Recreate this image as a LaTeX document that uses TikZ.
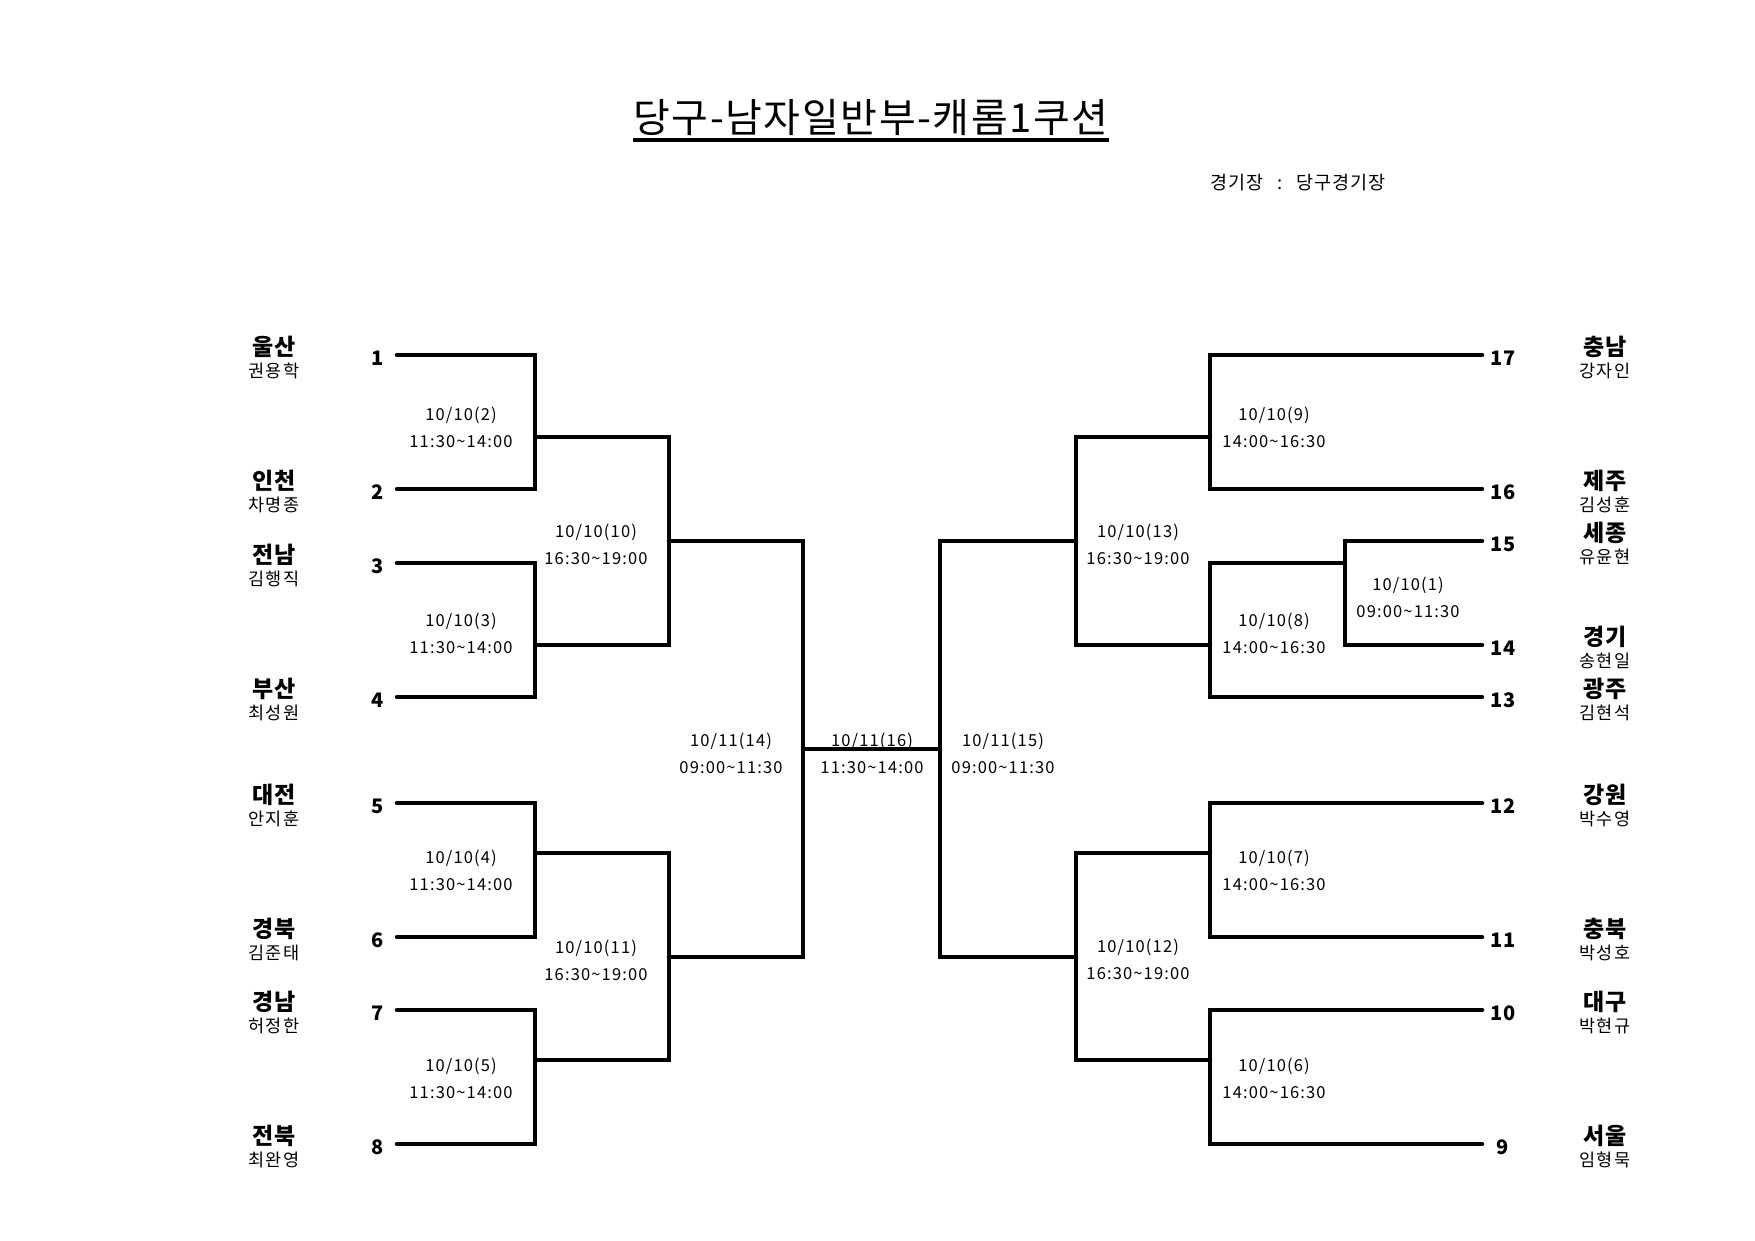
\documentclass[tikz,border=0pt]{standalone}
\usepackage{fontspec}
\setmainfont{Noto Sans CJK KR}
\begin{document}
\begin{tikzpicture}[x=1pt,y=-1pt,
  br/.style={line width=4.5pt, line cap=round, line join=miter},
  num/.style={font=\fontsize{20}{20}\selectfont\bfseries, inner sep=0pt},
  reg/.style={font=\fontsize{23}{23}\selectfont\bfseries\addfontfeature{LetterSpace=3}, inner sep=0pt},
  per/.style={font=\fontsize{17.5}{17.5}\selectfont\addfontfeature{LetterSpace=8}, inner sep=0pt},
  mt/.style={font=\fontsize{16.5}{27}\selectfont\addfontfeature{LetterSpace=7}, inner sep=0pt, align=center}
]
\useasboundingbox (0,0) rectangle (1755,1240);

% title
\node[inner sep=0pt, font=\fontsize{40}{40}\selectfont\addfontfeature{LetterSpace=4}] (title) at (871,118) {당구-남자일반부-캐롬1쿠션};
\draw[line width=4pt] ([yshift=-7pt]title.base west) -- ([yshift=-7pt]title.base east);
\node[inner sep=0pt, anchor=west, font=\fontsize{18.5}{18.5}\selectfont\addfontfeature{LetterSpace=5}] (venue) at (1210,183) {경기장\hspace{14pt}:\hspace{14pt}당구경기장};

% seed coordinates (left)
\coordinate (L1) at (397,355);
\coordinate (L2) at (397,489);
\coordinate (L3) at (397,563);
\coordinate (L4) at (397,697);
\coordinate (L5) at (397,803);
\coordinate (L6) at (397,937);
\coordinate (L7) at (397,1010);
\coordinate (L8) at (397,1144);
% junctions left
\coordinate (m2) at (535,437);
\coordinate (m3) at (535,645);
\coordinate (m4) at (535,853);
\coordinate (m5) at (535,1060);
\coordinate (m10) at (669,541);
\coordinate (m11) at (669,957);
\coordinate (m14) at (803,749);
% right seeds
\coordinate (R17) at (1482,355);
\coordinate (R16) at (1482,489);
\coordinate (R15) at (1482,541);
\coordinate (R14) at (1482,645);
\coordinate (R13) at (1482,697);
\coordinate (R12) at (1482,803);
\coordinate (R11) at (1482,937);
\coordinate (R10) at (1482,1010);
\coordinate (R9) at (1482,1144);
% junctions right
\coordinate (m1) at (1345,563);
\coordinate (m9) at (1210,437);
\coordinate (m8) at (1210,645);
\coordinate (m7) at (1210,853);
\coordinate (m6) at (1210,1060);
\coordinate (m13) at (1076,541);
\coordinate (m12) at (1076,957);
\coordinate (m15) at (940,749);

% brackets left
\draw[br] (L1) -| (m2) |- (L2);
\draw[br] (L3) -| (m3) |- (L4);
\draw[br] (L5) -| (m4) |- (L6);
\draw[br] (L7) -| (m5) |- (L8);
\draw[br] (m2) -| (m10) |- (m3);
\draw[br] (m4) -| (m11) |- (m5);
\draw[br] (m10) -| (m14) |- (m11);
% final
\draw[br] (m14) -- (m15);
% brackets right
\draw[br] (m13) -| (m15) |- (m12);
\draw[br] (m9) -| (m13) |- (m8);
\draw[br] (R17) -| (m9) |- (R16);
\draw[br] (R15) -| (m1) |- (R14);
\draw[br] (m1) -| (m8) |- (R13);
\draw[br] (R12) -| (m7) |- (R11);
\draw[br] (R10) -| (m6) |- (R9);
\draw[br] (m7) -| (m12) |- (m6);

% seed numbers and names (left)
\foreach \n/\y/\r/\p in {1/355/울산/권용학, 2/489/인천/차명종, 3/563/전남/김행직, 4/697/부산/최성원,
  5/803/대전/안지훈, 6/937/경북/김준태, 7/1010/경남/허정한, 8/1144/전북/최완영}{
  \node[num] (n\n) at (378,\y+3) {\n};
  \node[reg] (r\n) at (274,\y-8) {\r};
  \node[per] (p\n) at (274,\y+16) {\p};
}
% right
\foreach \n/\y/\r/\p in {17/355/충남/강자인, 16/489/제주/김성훈, 15/541/세종/유윤현, 14/645/경기/송현일,
  13/697/광주/김현석, 12/803/강원/박수영, 11/937/충북/박성호, 10/1010/대구/박현규, 9/1144/서울/임형묵}{
  \node[num] (n\n) at (1503,\y+3) {\n};
  \node[reg] (r\n) at (1605,\y-8) {\r};
  \node[per] (p\n) at (1605,\y+16) {\p};
}

% match labels
\node[mt] (g2) at (461,427) {10/10(2)\\11:30\textasciitilde14:00};
\node[mt] (g3) at (461,633) {10/10(3)\\11:30\textasciitilde14:00};
\node[mt] (g4) at (461,870) {10/10(4)\\11:30\textasciitilde14:00};
\node[mt] (g5) at (461,1078) {10/10(5)\\11:30\textasciitilde14:00};
\node[mt] (g10) at (596,544) {10/10(10)\\16:30\textasciitilde19:00};
\node[mt] (g11) at (596,960) {10/10(11)\\16:30\textasciitilde19:00};
\node[mt] (g14) at (731,753) {10/11(14)\\09:00\textasciitilde11:30};
\node[mt] (g16) at (872,753) {10/11(16)\\11:30\textasciitilde14:00};
\node[mt] (g15) at (1003,753) {10/11(15)\\09:00\textasciitilde11:30};
\node[mt] (g9) at (1274,427) {10/10(9)\\14:00\textasciitilde16:30};
\node[mt] (g13) at (1138,544) {10/10(13)\\16:30\textasciitilde19:00};
\node[mt] (g1) at (1408,597) {10/10(1)\\09:00\textasciitilde11:30};
\node[mt] (g8) at (1274,633) {10/10(8)\\14:00\textasciitilde16:30};
\node[mt] (g7) at (1274,870) {10/10(7)\\14:00\textasciitilde16:30};
\node[mt] (g12) at (1138,959) {10/10(12)\\16:30\textasciitilde19:00};
\node[mt] (g6) at (1274,1078) {10/10(6)\\14:00\textasciitilde16:30};
\end{tikzpicture}
\end{document}
